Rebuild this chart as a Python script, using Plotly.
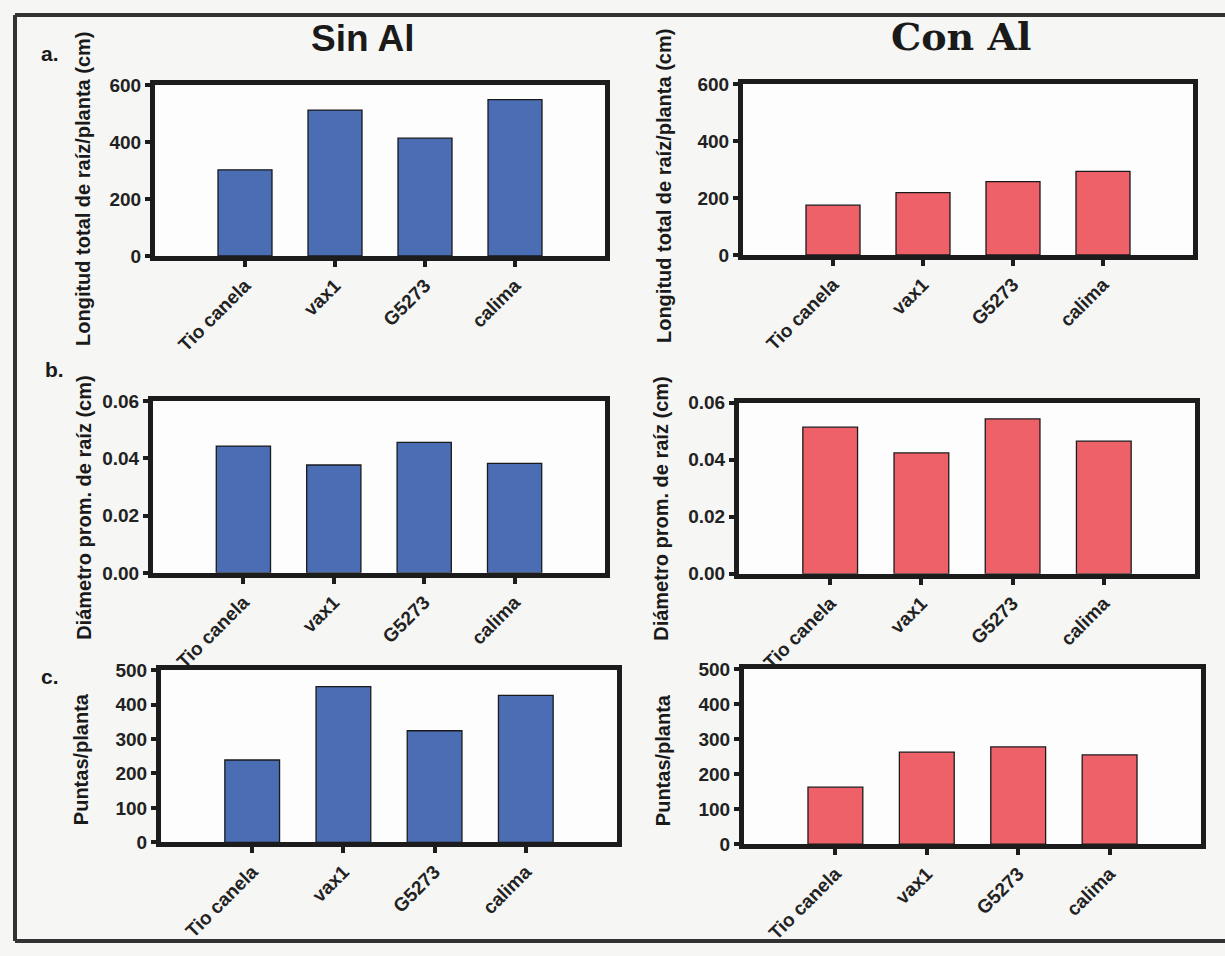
import plotly.graph_objects as go

# ---- data ----
cultivares = ["Tio canela", "vax1", "G5273", "calima"]
longitud_sin = [303, 513, 414, 550]
longitud_con = [175, 219, 258, 294]
diametro_sin = [0.0443, 0.0377, 0.0456, 0.0383]
diametro_con = [0.0514, 0.0424, 0.0543, 0.0465]
puntas_sin = [239, 452, 324, 427]
puntas_con = [163, 263, 278, 255]

ticks_longitud = [0, 200, 400, 600]
ticks_diametro = [0.00, 0.02, 0.04, 0.06]
ticks_puntas = [0, 100, 200, 300, 400, 500]

titulo_long = "Longitud total de raíz/planta (cm)"
titulo_diam = "Diámetro prom. de raíz (cm)"
titulo_punt = "Puntas/planta"

W, H = 1225, 956
AZUL = "#4a6db4"
ROJO = "#ef6168"

# panel boxes in pixels: (x0, x1, ytop, ybottom)
paneles = [
    dict(vals=longitud_sin, color=AZUL, box=(155, 605, 77, 251.5), ticks=ticks_longitud, fmt="d", rng=[0, 600]),
    dict(vals=longitud_con, color=ROJO, box=(743, 1193, 76, 250.5), ticks=ticks_longitud, fmt="d", rng=[0, 600]),
    dict(vals=diametro_sin, color=AZUL, box=(153, 605, 400, 575.5), ticks=ticks_diametro, fmt=".2f", rng=[0, 0.06]),
    dict(vals=diametro_con, color=ROJO, box=(739, 1195, 401.5, 576.5), ticks=ticks_diametro, fmt=".2f", rng=[0, 0.06]),
    dict(vals=puntas_sin, color=AZUL, box=(161, 617, 675, 851), ticks=ticks_puntas, fmt="d", rng=[0, 500]),
    dict(vals=puntas_con, color=ROJO, box=(744, 1201, 674, 853), ticks=ticks_puntas, fmt="d", rng=[0, 500]),
]

fig = go.Figure()
layout = {}
FONT = "Liberation Sans, Arial, sans-serif"
AX = "#1c1c1c"
for i, p in enumerate(paneles, start=1):
    sfx = "" if i == 1 else str(i)
    x0, x1, yt, yb = p["box"]
    fig.add_trace(go.Bar(
        x=cultivares, y=p["vals"], width=0.6,
        marker=dict(color=p["color"], line=dict(color="#1a1a1a", width=1.3)),
        xaxis="x" + sfx, yaxis="y" + sfx, showlegend=False,
    ))
    layout["xaxis" + sfx] = dict(
        domain=[x0 / W, x1 / W], anchor="y" + sfx, type="category",
        range=[-1, 4], showline=True, linecolor=AX, linewidth=5,
        mirror=True, ticks="outside", ticklen=6, tickwidth=3.5, tickcolor=AX,
        tickangle=-45, showgrid=False, zeroline=False,
        tickfont=dict(family=FONT, size=19, color="#222", weight="bold"),
    )
    layout["yaxis" + sfx] = dict(
        domain=[1 - yb / H, 1 - yt / H], anchor="x" + sfx,
        range=p["rng"], tickvals=p["ticks"], tickformat=p["fmt"],
        showline=True, linecolor=AX, linewidth=5, mirror=True,
        ticks="outside", ticklen=5, tickwidth=3.5, tickcolor=AX,
        showgrid=False, zeroline=False,
        tickfont=dict(family=FONT, size=19, color="#222", weight="bold"),
    )

fig.update_layout(**layout)

ann = []
def px_ann(text, x, y, size, angle=0, family=FONT):
    ann.append(dict(text=text, x=x / W, y=1 - y / H, xref="paper", yref="paper",
                    showarrow=False, textangle=angle, xanchor="center", yanchor="middle",
                    font=dict(family=family, size=size, color="#1a1a1a", weight="bold")))

px_ann("Sin Al", 362, 29, 37)
px_ann("Con Al", 961, 27, 38, family="DejaVu Serif, serif")
px_ann("a.", 50, 44, 21)
px_ann("b.", 54, 368, 21)
px_ann("c.", 50, 681, 21)
px_ann(titulo_long, 83, 183, 20, -90)
px_ann(titulo_long, 664, 180, 20, -90)
px_ann(titulo_diam, 84, 509, 20, -90)
px_ann(titulo_diam, 661, 510, 20, -90)
px_ann(titulo_punt, 81, 766, 20, -90)
px_ann(titulo_punt, 663, 767, 20, -90)

# outer frame (top, left, bottom)
frame = dict(type="line", xref="paper", yref="paper", line=dict(color="#333", width=4))
shapes = [
    dict(frame, x0=15 / W, x1=1, y0=1 - 5 / H, y1=1 - 5 / H),
    dict(frame, x0=15 / W, x1=15 / W, y0=1 - 952 / H, y1=1 - 5 / H),
    dict(frame, x0=15 / W, x1=1, y0=1 - 952 / H, y1=1 - 952 / H),
]

fig.update_layout(
    width=W, height=H, margin=dict(l=0, r=0, t=0, b=0),
    paper_bgcolor="#f6f6f4", plot_bgcolor="#fdfdfd",
    annotations=ann, shapes=shapes, bargap=0.4,
)

fig.write_html("out.html")
